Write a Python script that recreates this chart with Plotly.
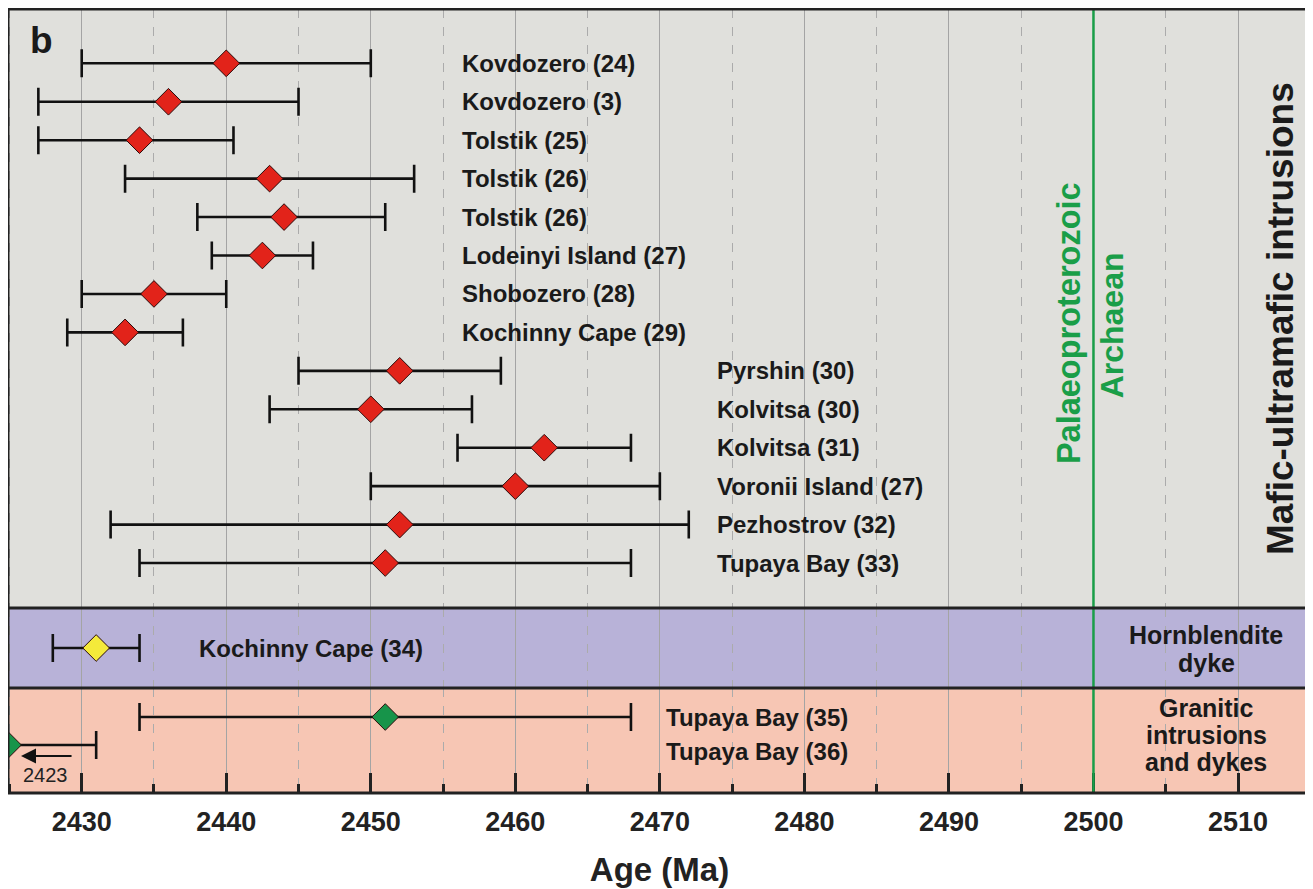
import plotly.graph_objects as go
from plotly.subplots import make_subplots

# ---------------- data ----------------
mafic_names = ["Kovdozero (24)", "Kovdozero (3)", "Tolstik (25)", "Tolstik (26)", "Tolstik (26)",
               "Lodeinyi Island (27)", "Shobozero (28)", "Kochinny Cape (29)", "Pyrshin (30)",
               "Kolvitsa (30)", "Kolvitsa (31)", "Voronii Island (27)", "Pezhostrov (32)",
               "Tupaya Bay (33)"]
mafic_age = [2440, 2436, 2434, 2443, 2444, 2442.5, 2435, 2433, 2452, 2450, 2462, 2460, 2452, 2451]
mafic_lo = [2430, 2427, 2427, 2433, 2438, 2439, 2430, 2429, 2445, 2443, 2456, 2450, 2432, 2434]
mafic_hi = [2450, 2445, 2440.5, 2453, 2451, 2446, 2440, 2437, 2459, 2457, 2468, 2470, 2472, 2468]

horn_names = ["Kochinny Cape (34)"]
horn_age = [2431]
horn_lo = [2428]
horn_hi = [2434]

gran_names = ["Tupaya Bay (35)", "Tupaya Bay (36)"]
gran_age = [2451, 2423]
gran_lo = [2434, 2423]
gran_hi = [2468, 2431]

x_min, x_max = 2424.9, 2515.05
boundary_age = 2500
x_ticks = [2430, 2440, 2450, 2460, 2470, 2480, 2490, 2500, 2510]

# ---------------- styles ----------------
GREY = "#e0e0dc"
PURPLE = "#b8b2d8"
SALMON = "#f7c6b4"
FRAME = "#222222"
GREEN = "#1a9e48"
BOLD = "Liberation Sans, Arial, sans-serif"
NARROW = "Liberation Sans Narrow, Arial Narrow, Liberation Sans, sans-serif"

fig = make_subplots(rows=3, cols=1, shared_xaxes=True, vertical_spacing=0,
                    row_heights=[599, 80, 105])


def add_series(age, lo, hi, color, row):
    shown = [max(a, x_min) for a in age]
    fig.add_trace(go.Scatter(
        x=shown, y=list(range(len(age))), mode="markers",
        marker=dict(symbol="diamond", size=20.5, color=color,
                    line=dict(color="#2a0a0a", width=1)),
        error_x=dict(type="data", symmetric=False,
                     array=[h - s for h, s in zip(hi, shown)],
                     arrayminus=[max(s - l, 0) for s, l in zip(shown, lo)],
                     color="#111111", thickness=2.6, width=14),
        cliponaxis=True, hoverinfo="x", showlegend=False), row=row, col=1)


add_series(mafic_age, mafic_lo, mafic_hi, "#e2231a", 1)
add_series(horn_age, horn_lo, horn_hi, "#f4ea3a", 2)
add_series(gran_age, gran_lo, gran_hi, "#17944a", 3)

# axes
for r in (1, 2, 3):
    fig.update_xaxes(range=[x_min, x_max], tickvals=x_ticks, showgrid=True,
                     gridcolor="#a4a4a4", gridwidth=1.3, zeroline=False, showline=False,
                     minor=dict(dtick=5, tick0=2425, showgrid=True, griddash="dash",
                                gridcolor="#ababab", gridwidth=1.3,
                                ticks="inside" if r == 3 else "", ticklen=9,
                                tickwidth=3, tickcolor=FRAME),
                     row=r, col=1)
fig.update_xaxes(ticks="inside", ticklen=20, tickwidth=3, tickcolor=FRAME,
                 showticklabels=True, ticklabelstandoff=10,
                 tickfont=dict(family=NARROW, size=27, color="#222", weight="bold"),
                 title=dict(text="Age (Ma)", standoff=21,
                            font=dict(family=NARROW, size=33, color="#222", weight="bold")),
                 row=3, col=1)

fig.update_yaxes(showgrid=False, zeroline=False, showticklabels=False, ticks="", showline=False)
fig.update_yaxes(range=[14.17, -1.413], row=1, col=1)
fig.update_yaxes(range=[1, -1], row=2, col=1)
fig.update_yaxes(range=[2.714, -1.036], row=3, col=1)

shapes = []
for ax, col in (("", GREY), ("2", PURPLE), ("3", SALMON)):
    shapes.append(dict(type="rect", xref=f"x{ax} domain", yref=f"y{ax} domain",
                       x0=0, x1=1, y0=0, y1=1, fillcolor=col, line=dict(width=0), layer="below"))
# era boundary line
shapes.append(dict(type="line", xref="x3", yref="paper", x0=boundary_age, x1=boundary_age,
                   y0=0, y1=1, line=dict(color=GREEN, width=2.5), layer="above"))
# frame and panel separators
d2 = fig.layout.yaxis2.domain
shapes.append(dict(type="rect", xref="paper", yref="paper", x0=0, x1=1, y0=0, y1=1,
                   line=dict(color=FRAME, width=3), layer="above"))
for yv in (d2[0], d2[1]):
    shapes.append(dict(type="line", xref="paper", yref="paper", x0=0, x1=1, y0=yv, y1=yv,
                       line=dict(color=FRAME, width=3), layer="above"))

lab_font = dict(family=BOLD, size=24, color="#1a1a1a", weight="bold")
side_font = dict(family=BOLD, size=25, color="#1a1a1a", weight="bold")
ann = []
for i, name in enumerate(mafic_names):
    ann.append(dict(x=2456.2 if i < 8 else 2473.8, y=i, xref="x", yref="y", text=name,
                    showarrow=False, xanchor="left", yanchor="middle", font=lab_font))
ann.append(dict(x=2438.0, y=0, xref="x2", yref="y2", text=horn_names[0], showarrow=False,
                xanchor="left", yanchor="middle", font=lab_font))
for i, name in enumerate(gran_names):
    ann.append(dict(x=2470.3, y=i, xref="x3", yref="y3", text=name, showarrow=False,
                    xanchor="left", yanchor="middle", yshift=-6 * i, font=lab_font))

ann.append(dict(x=2427.2, y=-0.6, xref="x", yref="y", text="b", showarrow=False,
                font=dict(family=BOLD, size=37, color="#1a1a1a", weight="bold")))
ann.append(dict(x=2512.9, y=6.63, xref="x", yref="y", text="Mafic-ultramafic intrusions",
                textangle=-90, showarrow=False,
                font=dict(family=BOLD, size=37, color="#1a1a1a", weight="bold")))
ann.append(dict(x=2498.3, y=6.76, xref="x", yref="y", text="Palaeoproterozoic",
                textangle=-90, showarrow=False,
                font=dict(family=BOLD, size=32.5, color=GREEN, weight="bold")))
ann.append(dict(x=2501.3, y=6.81, xref="x", yref="y", text="Archaean",
                textangle=-90, showarrow=False,
                font=dict(family=BOLD, size=32, color=GREEN, weight="bold")))
# right-hand group labels, one annotation per line
for txt, yy in (("Hornblendite", -0.33), ("dyke", 0.37)):
    ann.append(dict(x=2507.8, y=yy, xref="x2", yref="y2", text=txt, showarrow=False,
                    font=side_font))
for txt, yy in (("Granitic", -0.32), ("intrusions", 0.64), ("and dykes", 1.61)):
    ann.append(dict(x=2507.8, y=yy, xref="x3", yref="y3", text=txt, showarrow=False,
                    font=side_font))
# arrow to the out-of-range age
ann.append(dict(x=2425.8, y=1.39, xref="x3", yref="y3", ax=2429.4, ay=1.39,
                axref="x3", ayref="y3", text="", showarrow=True, arrowhead=2,
                arrowsize=1.5, arrowwidth=2, arrowcolor="#111"))
ann.append(dict(x=2427.5, y=2.07, xref="x3", yref="y3", text=str(gran_age[1]),
                showarrow=False, font=dict(family=BOLD, size=20, color="#222")))

fig.update_layout(width=1305, height=881, margin=dict(l=0, r=2, t=1, b=96, autoexpand=False),
                  paper_bgcolor="white", plot_bgcolor="rgba(0,0,0,0)",
                  shapes=shapes, annotations=ann, showlegend=False)

fig.write_html("out.html")
